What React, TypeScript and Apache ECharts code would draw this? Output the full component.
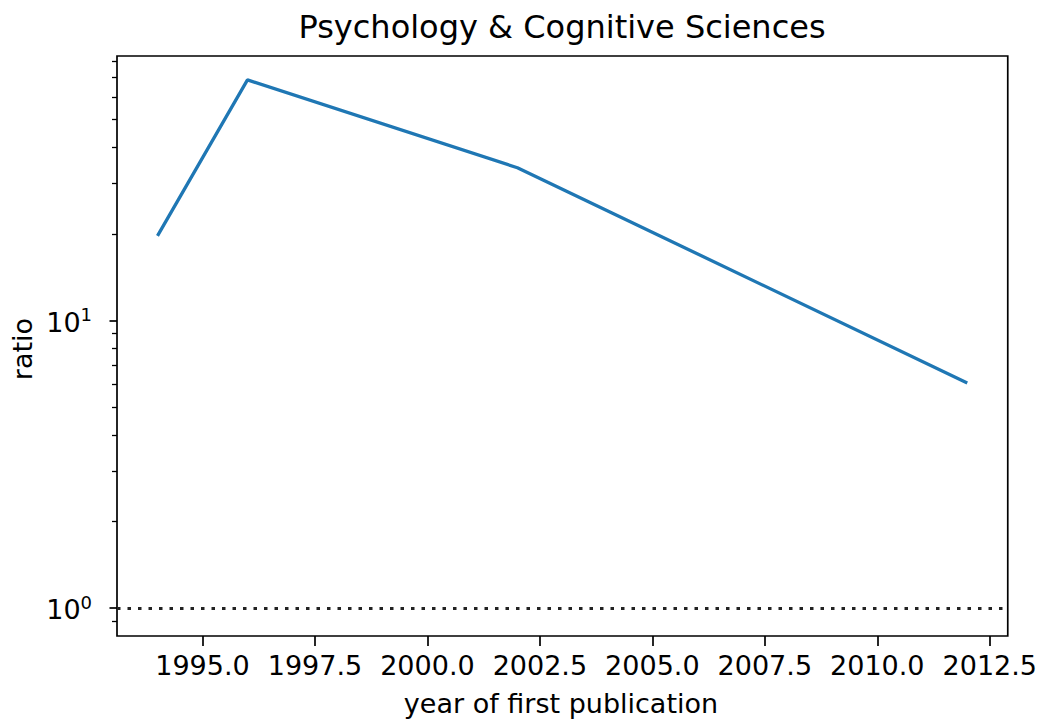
import React, { useEffect, useRef } from "react";
import * as echarts from "echarts";

const years = [1994, 1996, 2002, 2012];
const ratios = [19.7, 68.7, 34.0, 6.07];
const xTicks = [1995, 1997.5, 2000, 2002.5, 2005, 2007.5, 2010, 2012.5];
const yMajorTicks = [1, 10];
const yMinorTicks = [0.9, 2, 3, 4, 5, 6, 7, 8, 9, 20, 30, 40, 50, 60, 70, 80];
const referenceLevel = 1;
const titleText = "Psychology & Cognitive Sciences";
const xName = "year of first publication";
const yName = "ratio";

const FONT = "DejaVu Sans";

export default function App() {
  const ref = useRef<HTMLDivElement>(null);
  useEffect(() => {
    if (!ref.current) return;
    const chart = echarts.init(ref.current, undefined, { renderer: "svg" });
    const gridLeft = 117;
    const gridRight = 29;
    const gridTop = 56;
    const gridBottom = 85;
    const plotCenterX = (gridLeft + (1040 - gridRight)) / 2;
    const plotCenterY = (gridTop + (721 - gridBottom)) / 2;
    chart.setOption({
      animation: false,
      backgroundColor: "#ffffff",
      grid: {
        left: gridLeft,
        right: gridRight,
        top: gridTop,
        bottom: gridBottom,
        show: true,
        borderColor: "#000",
        borderWidth: 1.7,
        containLabel: false,
      },
      graphic: [
        {
          type: "text",
          x: plotCenterX - 2,
          y: 27,
          style: {
            text: titleText,
            font: `32px "${FONT}"`,
            fill: "#000",
            textAlign: "center",
            textVerticalAlign: "middle",
          },
        },
        {
          type: "text",
          x: plotCenterX - 3,
          y: 703,
          style: {
            text: xName,
            font: `27px "${FONT}"`,
            fill: "#000",
            textAlign: "center",
            textVerticalAlign: "middle",
          },
        },
        {
          type: "text",
          x: 22,
          y: plotCenterY + 3,
          rotation: Math.PI / 2,
          style: {
            text: yName,
            font: `27px "${FONT}"`,
            fill: "#000",
            textAlign: "center",
            textVerticalAlign: "middle",
          },
        },
      ],
      xAxis: {
        type: "value",
        min: 1993.1,
        max: 2012.9,
        axisLine: { show: false },
        splitLine: { show: false },
        axisTick: {
          show: true,
          customValues: xTicks,
          length: 10,
          lineStyle: { color: "#000", width: 1.7 },
        },
        axisLabel: {
          customValues: xTicks,
          formatter: (v: number) => v.toFixed(1),
          fontFamily: FONT,
          fontSize: 27,
          color: "#000",
          margin: 16,
        },
      },
      yAxis: [
        {
          type: "log",
          logBase: 10,
          min: 0.8,
          max: 83.2,
          axisLine: { show: false },
          splitLine: { show: false },
          axisTick: {
            show: true,
            customValues: yMajorTicks,
            length: 7.5,
            lineStyle: { color: "#000", width: 1.7 },
          },
          axisLabel: {
            customValues: yMajorTicks,
            margin: 25,
            formatter: (v: number) => `{b|10}{s|${Math.round(Math.log10(v))}}`,
            rich: {
              b: { fontFamily: FONT, fontSize: 27, color: "#000", lineHeight: 30, verticalAlign: "bottom" },
              s: { fontFamily: FONT, fontSize: 18, color: "#000", lineHeight: 17, verticalAlign: "top" },
            },
          },
        },
        {
          type: "log",
          logBase: 10,
          min: 0.8,
          max: 83.2,
          position: "left",
          axisLine: { show: false },
          splitLine: { show: false },
          axisLabel: { show: false },
          axisTick: {
            show: true,
            customValues: yMinorTicks,
            length: 5,
            lineStyle: { color: "#000", width: 1.3 },
          },
        },
      ],
      series: [
        {
          type: "line",
          data: years.map((y, i) => [y, ratios[i]]),
          showSymbol: false,
          symbol: "none",
          lineStyle: { color: "#1f77b4", width: 3.3 },
          markLine: {
            silent: true,
            symbol: ["none", "none"],
            label: { show: false },
            lineStyle: { color: "#222", type: [3.5, 7], width: 3, cap: "butt" },
            data: [{ yAxis: referenceLevel }],
          },
        },
      ],
    });
    return () => chart.dispose();
  }, []);
  return (
    <div
      ref={ref}
      style={{ position: "absolute", left: 0, top: 0, width: 1040, height: 721 }}
    />
  );
}
